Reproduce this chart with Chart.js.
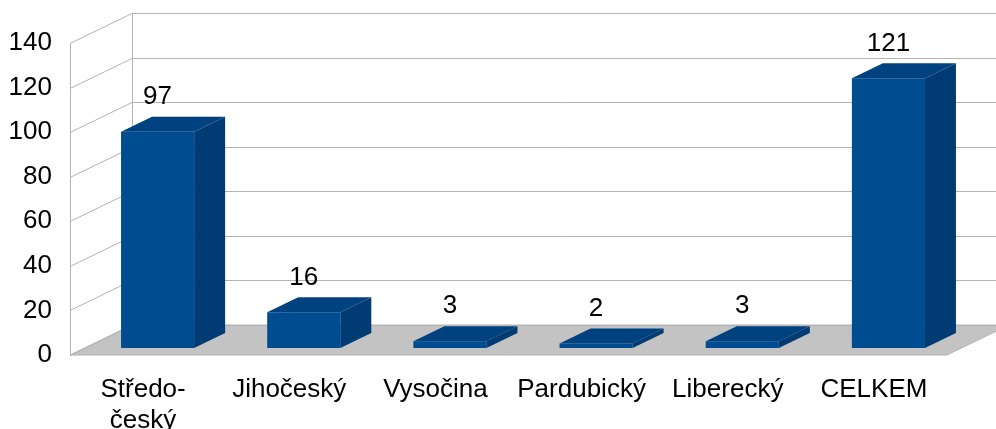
<!DOCTYPE html>
<html>
<head>
<meta charset="utf-8">
<script src="https://cdn.jsdelivr.net/npm/chart.js@4"></script>
<style>
  html, body { margin: 0; padding: 0; background: #fff; }
  #wrap { width: 996px; height: 429px; }
</style>
</head>
<body>
<div id="wrap"><canvas id="chart"></canvas></div>
<script>
// data
const categories = [["Středo-", "český"], "Jihočeský", "Vysočina", "Pardubický", "Liberecký", "CELKEM"];
const values = [97, 16, 3, 2, 3, 121];
const yMin = 0;
const yMax = 140;
const yStep = 20;

// 3d look (pixels)
const WALL_DX = 62, WALL_DY = -30;   // back wall offset
const BAR_DX = 14.5, BAR_DY = -7;    // bar front face offset from front plane
const DEPTH_DX = 31, DEPTH_DY = -15; // bar depth

function poly(ctx, pts) {
  ctx.beginPath();
  ctx.moveTo(pts[0][0], pts[0][1]);
  for (let i = 1; i < pts.length; i++) ctx.lineTo(pts[i][0], pts[i][1]);
  ctx.closePath();
}

const walls3d = {
  id: "walls3d",
  beforeDatasetsDraw(chart) {
    const ctx = chart.ctx;
    const a = chart.chartArea;
    const y = chart.scales.y;
    const y0 = y.getPixelForValue(yMin);
    ctx.save();
    // floor
    poly(ctx, [[a.left, y0], [a.right, y0], [a.right + WALL_DX, y0 + WALL_DY], [a.left + WALL_DX, y0 + WALL_DY]]);
    ctx.fillStyle = "#c3c3c3";
    ctx.fill();
    ctx.strokeStyle = "#b3b3b3";
    ctx.lineWidth = 1;
    ctx.stroke();
    // grid on side and back wall
    ctx.beginPath();
    y.ticks.forEach(function (t) {
      const py = Math.round(y.getPixelForValue(t.value)) + 0.5;
      ctx.moveTo(a.left, py);
      ctx.lineTo(a.left + WALL_DX, py + WALL_DY);
      ctx.lineTo(a.right + WALL_DX + 5, py + WALL_DY);
    });
    const xl = Math.round(a.left) + 0.5;
    ctx.moveTo(xl, a.top);
    ctx.lineTo(xl, y0);
    ctx.moveTo(xl + WALL_DX, a.top + WALL_DY);
    ctx.lineTo(xl + WALL_DX, y0 + WALL_DY);
    ctx.stroke();
    ctx.restore();

    // shift front faces of bars back a bit
    ctx.save();
    ctx.translate(BAR_DX, BAR_DY);
  },
  afterDatasetsDraw(chart) {
    const ctx = chart.ctx;
    const meta = chart.getDatasetMeta(0);
    meta.data.forEach(function (bar) {
      const p = bar.getProps(["x", "y", "base", "width"], true);
      const l = p.x - p.width / 2, r = p.x + p.width / 2;
      const top = p.y, bottom = p.base;
      // top face
      poly(ctx, [[l, top], [r, top], [r + DEPTH_DX, top + DEPTH_DY], [l + DEPTH_DX, top + DEPTH_DY]]);
      ctx.fillStyle = "#00417f";
      ctx.fill();
      // side face
      poly(ctx, [[r, top], [r, bottom], [r + DEPTH_DX, bottom + DEPTH_DY], [r + DEPTH_DX, top + DEPTH_DY]]);
      ctx.fillStyle = "#003b73";
      ctx.fill();
    });
    ctx.restore();

    // value labels
    ctx.save();
    ctx.font = "26px 'Liberation Sans', Arial, sans-serif";
    ctx.fillStyle = "#000";
    ctx.textAlign = "center";
    ctx.textBaseline = "middle";
    meta.data.forEach(function (bar, i) {
      ctx.fillText(String(values[i]), bar.x + BAR_DX, bar.y + BAR_DY + DEPTH_DY - 20);
    });
    ctx.restore();
  }
};

Chart.defaults.font.family = "'Liberation Sans', Arial, sans-serif";
Chart.defaults.font.size = 26;
Chart.defaults.color = "#000";

new Chart(document.getElementById("chart").getContext("2d"), {
  type: "bar",
  data: {
    labels: categories,
    datasets: [
      {
        data: values,
        backgroundColor: "#004c91",
        borderWidth: 0,
        barPercentage: 0.5,
        categoryPercentage: 1,
        clip: false,
      },
    ],
  },
  options: {
    responsive: true,
    maintainAspectRatio: false,
    animation: false,
    layout: { padding: { left: 0, top: 43, right: 49, bottom: 0 } },
    plugins: { legend: { display: false }, tooltip: { enabled: false } },
    scales: {
      x: {
        grid: { display: false, drawTicks: false },
        border: { display: false },
        ticks: { padding: 19, maxRotation: 0, autoSkip: false },
        afterFit: function (s) { s.height = 74; },
      },
      y: {
        min: yMin,
        max: yMax,
        grid: { display: false, drawTicks: false },
        border: { display: false },
        ticks: { stepSize: yStep, padding: 18 },
        afterFit: function (s) { s.width = 70; },
      },
    },
  },
  plugins: [walls3d],
});
</script>
</body>
</html>
